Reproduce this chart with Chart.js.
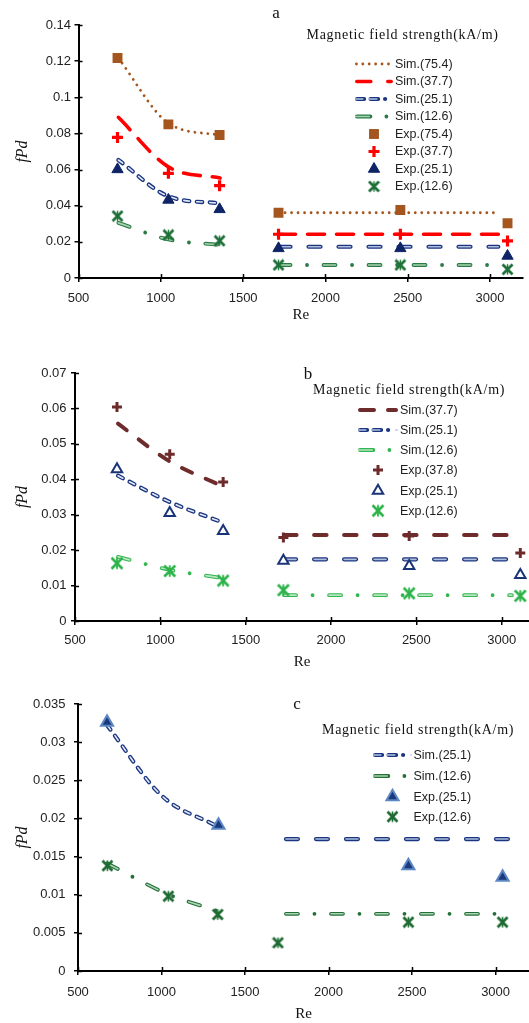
<!DOCTYPE html>
<html>
<head>
<meta charset="utf-8">
<script src="https://cdn.jsdelivr.net/npm/chart.js@4.4.1/dist/chart.umd.min.js"></script>
<style>
html,body{margin:0;padding:0;background:#fff;}
body{width:529px;height:1023px;position:relative;overflow:hidden;}
canvas{position:absolute;left:0;}
</style>
</head>
<body>
<canvas id="ca" width="529" height="325" style="top:0px"></canvas>
<canvas id="cb" width="529" height="347" style="top:325px"></canvas>
<canvas id="cc" width="529" height="351" style="top:672px"></canvas>
<script>
// ================= DATA =================
const xTicks = [500, 1000, 1500, 2000, 2500, 3000];

// ---- panel a ----
const yTicksA = [0, 0.02, 0.04, 0.06, 0.08, 0.1, 0.12, 0.14];
const reExpA = [737, 1046, 1357, 1715, 2455, 3106];
const expA754 = [0.1217, 0.0850, 0.0791, 0.0361, 0.0376, 0.0303];
const expA377 = [0.0778, 0.0579, 0.0511, 0.0242, 0.0242, 0.0205];
const expA251 = [0.0601, 0.0432, 0.0380, 0.0164, 0.0164, 0.0122];
const expA126 = [0.0343, 0.0238, 0.0206, 0.0072, 0.0072, 0.0048];
const reSimLowA = [742, 1046, 1360];
const simLowA754 = [0.1217, 0.0857, 0.0790];
const simLowA377 = [0.0889, 0.0615, 0.0553];
const simLowA251 = [0.0653, 0.0452, 0.0413];
const simLowA126 = [0.0305, 0.0213, 0.0183];
const reSimHighA = [1715, 3050];
const simHighA754 = [0.0361, 0.0361];
const simHighA377 = [0.0242, 0.0242];
const simHighA251 = [0.0173, 0.0173];
const simHighA126 = [0.0072, 0.0072];

// ---- panel b ----
const yTicksB = [0, 0.01, 0.02, 0.03, 0.04, 0.05, 0.06, 0.07];
const reExpB = [746, 1055, 1368, 1721, 2458, 3109];
const expB378 = [0.0604, 0.0471, 0.0392, 0.0236, 0.0240, 0.0192];
const expB251 = [0.0428, 0.0305, 0.0254, 0.0170, 0.0155, 0.0130];
const expB126 = [0.0163, 0.0141, 0.0114, 0.0087, 0.0078, 0.0071];
const reSimLowB = [752, 1050, 1365];
const simLowB377 = [0.0557, 0.0452, 0.0380];
const simLowB251 = [0.0410, 0.0337, 0.0278];
const simLowB126 = [0.0181, 0.0145, 0.0121];
const reSimHighB = [1725, 3060];
const simHighB377 = [0.0243, 0.0243];
const simHighB251 = [0.0174, 0.0174];
const simHighB126 = [0.0073, 0.0073];

// ---- panel c ----
const yTicksC = [0, 0.005, 0.01, 0.015, 0.02, 0.025, 0.03, 0.035];
const reExpC251 = [674, 1341, 2478, 3042];
const expC251 = [0.0326, 0.0191, 0.0138, 0.0123];
const reExpC126 = [676, 1041, 1337, 1697, 2478, 3042];
const expC126 = [0.0138, 0.0098, 0.0074, 0.0037, 0.0064, 0.0064];
const reSimLowC251 = [675, 1000, 1330];
const simLowC251 = [0.0322, 0.0230, 0.0190];
const reSimLowC126 = [675, 1035, 1330];
const simLowC126 = [0.0141, 0.0101, 0.0079];
const reSimHighC = [1745, 3075];
const simHighC251 = [0.0173, 0.0173];
const simHighC126 = [0.0075, 0.0075];

// ================= STYLES =================
const SANS = '"Liberation Sans", Arial, sans-serif';
const SERIF = '"Liberation Serif", "Times New Roman", serif';
const TITLE_TEXT = 'Magnetic field strength(kA/m)';

function pts(xs, ys) { return xs.map((x, i) => ({ x: x, y: ys[i] })); }

function asterisk(color, size, lw, vlw) {
  const c = document.createElement('canvas');
  c.width = size; c.height = size;
  const g = c.getContext('2d');
  const m = size / 2, r = size / 2 - 1.5;
  g.strokeStyle = color;
  g.lineWidth = lw;
  g.beginPath();
  g.moveTo(m - r, m - r); g.lineTo(m + r, m + r);
  g.moveTo(m + r, m - r); g.lineTo(m - r, m + r);
  g.stroke();
  g.lineWidth = vlw;
  g.beginPath();
  g.moveTo(m, m - r * 1.05); g.lineTo(m, m + r * 1.05);
  g.stroke();
  return c;
}

const C = {
  brown: '#A4561E', red: '#FF0000', navy: '#1B3580', navyDark: '#0E2466',
  greenA: '#1E7038', maroon: '#6E2B2B', greenB: '#2DB34A', greenC: '#1E6B33'
};

// line styles: layers (outline first, then inner fill)
const LS = {
  dotBrown: { plot: [{ color: C.brown, width: 2.8, dash: [0.01, 6.5] }],
              leg: [{ color: C.brown, width: 2.8, dash: [0.01, 6.4] }] },
  redA: { plot: [{ color: C.red, width: 3.6, dash: [17, 12] }],
          leg: [{ color: C.red, width: 3.6, dash: [14, 17] }] },
  navyLow: { plot: [{ color: C.navy, width: 4.2, dash: [5.5, 7.5] }, { color: '#E2E8F4', width: 1.6, dash: [5.5, 7.5] }],
             leg: [{ color: C.navy, width: 4.2, dash: [7, 6.5, 7.5, 7, 0.01, 9] }, { color: '#B7C4E0', width: 1.6, dash: [7, 6.5, 7.5, 16.01] }] },
  navyHigh: { plot: [{ color: C.navy, width: 4.2, dash: [12, 18] }, { color: '#AFBEDD', width: 1.6, dash: [12, 18] }] },
  greenA: { plot: [{ color: '#2A7A44', width: 3.8, dash: [12, 16.5, 0.01, 16.5] }, { color: '#A9D4B1', width: 1.6, dash: [12, 33.01] }],
            leg: [{ color: '#2A7A44', width: 3.8, dash: [13.5, 16, 0.01, 20] }, { color: '#A9D4B1', width: 1.6, dash: [13.5, 36.01] }] },
  maroonLow: { plot: [{ color: C.maroon, width: 4, dash: [11, 15] }] },
  maroonHigh: { plot: [{ color: C.maroon, width: 4, dash: [12.5, 17.5] }],
                leg: [{ color: C.maroon, width: 4, dash: [14, 14] }] },
  greenB: { plot: [{ color: '#33B550', width: 3.8, dash: [12, 16.5, 0.01, 16.5] }, { color: '#B9E6C2', width: 1.6, dash: [12, 33.01] }],
            leg: [{ color: '#33B550', width: 3.8, dash: [13.5, 16, 0.01, 20] }, { color: '#B9E6C2', width: 1.6, dash: [13.5, 36.01] }] },
  greenC: { plot: [{ color: '#226F38', width: 3.8, dash: [12, 16.5, 0.01, 16.5] }, { color: '#ACD3B3', width: 1.6, dash: [12, 33.01] }],
            leg: [{ color: '#226F38', width: 3.8, dash: [13.5, 16, 0.01, 20] }, { color: '#ACD3B3', width: 1.6, dash: [13.5, 36.01] }] }
};

// markers
const MK = {
  sqBrown: { style: 'rect', r: 7, fill: C.brown, color: C.brown, bw: 0 },
  plusRed: { style: 'cross', r: 5.5, fill: C.red, color: C.red, bw: 3.2 },
  triNavy: { style: 'triangle', r: 6.5, fill: C.navyDark, color: C.navyDark, bw: 1 },
  astGreenA: { style: asterisk(C.greenA, 13, 2.8, 1.4), r: 6, fill: C.greenA, color: C.greenA, bw: 1 },
  plusMaroon: { style: 'cross', r: 5, fill: C.maroon, color: C.maroon, bw: 3 },
  triHollow: { style: 'triangle', r: 6, fill: '#ffffff', color: '#1A3478', bw: 2 },
  astGreenB: { style: asterisk(C.greenB, 14, 2.6, 1.8), r: 6, fill: C.greenB, color: C.greenB, bw: 1 },
  triBlueC: { style: 'triangle', r: 7, fill: '#1A3A7C', color: '#5C86C4', bw: 2 },
  astGreenC: { style: asterisk(C.greenC, 13, 2.8, 1.6), r: 6, fill: C.greenC, color: C.greenC, bw: 1 }
};

// ================= BUILDERS =================
function simSets(data, ls) {
  return ls.plot.map((ly, i) => ({
    data: data, showLine: true,
    borderColor: ly.color, borderWidth: ly.width, borderDash: ly.dash,
    borderCapStyle: 'round', borderJoinStyle: 'round',
    pointRadius: 0, pointHoverRadius: 0, fill: false,
    tension: 0.4, cubicInterpolationMode: 'monotone',
    order: i === 0 ? 3 : 2
  }));
}
function expSet(data, mk) {
  return {
    data: data, showLine: false,
    pointStyle: mk.style, pointRadius: mk.r, pointHoverRadius: mk.r,
    pointBackgroundColor: mk.fill, pointBorderColor: mk.color, pointBorderWidth: mk.bw,
    order: 0
  };
}

function drawLegendLine(ctx, layers, x0, x1, y) {
  layers.forEach(ly => {
    ctx.save();
    ctx.strokeStyle = ly.color; ctx.lineWidth = ly.width;
    ctx.lineCap = 'round'; ctx.setLineDash(ly.dash);
    ctx.beginPath(); ctx.moveTo(x0 + ly.width / 2, y); ctx.lineTo(x1 - ly.width / 2, y); ctx.stroke();
    ctx.restore();
  });
}
function drawLegendMarker(ctx, mk, x, y) {
  ctx.save();
  ctx.fillStyle = mk.fill; ctx.strokeStyle = mk.color; ctx.lineWidth = mk.bw;
  Chart.helpers.drawPoint(ctx, { pointStyle: mk.style, radius: mk.r, borderWidth: mk.bw, rotation: 0 }, x, y);
  ctx.restore();
}

function decorPlugin(P) {
  return {
    id: 'decor' + P.id,
    afterDraw(chart) {
      const ctx = chart.ctx;
      const area = chart.chartArea;
      const xs = chart.scales.x, ys = chart.scales.y;
      // inward tick marks (cross style ticks)
      ctx.save();
      ctx.strokeStyle = '#000'; ctx.lineWidth = 1.5;
      ctx.beginPath();
      xs.ticks.forEach(t => { const px = Math.round(xs.getPixelForValue(t.value)) + 0.5; ctx.moveTo(px, area.bottom); ctx.lineTo(px, area.bottom - 4); });
      ys.ticks.forEach(t => { const py = Math.round(ys.getPixelForValue(t.value)) + 0.5; ctx.moveTo(area.left, py); ctx.lineTo(area.left + 4, py); });
      ctx.stroke();
      ctx.restore();

      // panel letter
      ctx.save();
      ctx.fillStyle = '#111';
      ctx.font = '17px ' + SERIF;
      ctx.textAlign = 'center'; ctx.textBaseline = 'alphabetic';
      ctx.fillText(P.letter, P.letterX, P.letterY);
      // legend title
      ctx.font = '14px ' + SERIF;
      ctx.textAlign = 'left';
      if ('letterSpacing' in ctx) ctx.letterSpacing = '0.7px';
      ctx.fillText(TITLE_TEXT, P.titleX, P.titleY);
      if ('letterSpacing' in ctx) ctx.letterSpacing = '0px';
      ctx.restore();

      // legend items
      const G = P.leg;
      P.items.forEach((it, i) => {
        const y = G.ys[i];
        if (it.line) drawLegendLine(ctx, it.line, G.x0, G.x1, y);
        if (it.mk) drawLegendMarker(ctx, it.mk, G.mx, y);
        ctx.save();
        ctx.fillStyle = '#1e1e1e';
        ctx.font = '12.5px ' + SANS;
        ctx.textAlign = 'left'; ctx.textBaseline = 'middle';
        ctx.fillText(it.label, G.tx, y + 0.5);
        ctx.restore();
      });
    }
  };
}

function makeChart(P) {
  const cv = document.getElementById(P.id);
  new Chart(cv, {
    type: 'scatter',
    data: { datasets: P.datasets },
    options: {
      responsive: false, animation: false, events: [],
      layout: { autoPadding: false, padding: { left: 0, right: cv.width - P.right, top: P.top, bottom: 0 } },
      plugins: { legend: { display: false }, tooltip: { enabled: false } },
      scales: {
        x: {
          type: 'linear', min: 500, max: P.xmax,
          afterBuildTicks: s => { s.ticks = xTicks.map(v => ({ value: v })); },
          afterFit: s => { s.height = P.xh; s.paddingLeft = 0; s.paddingRight = 0; },
          border: { display: true, color: '#000', width: 2 },
          grid: { drawOnChartArea: false, drawTicks: true, tickLength: 4, color: '#000', lineWidth: 1.5 },
          ticks: { color: '#222', font: { size: 13, family: SANS }, padding: P.xpad, maxRotation: 0, autoSkip: false, callback: v => String(v) },
          title: { display: true, text: 'Re', color: '#111', font: { size: 15, family: SERIF }, padding: { top: 0, bottom: P.rePad } }
        },
        y: {
          type: 'linear', min: 0, max: P.ymax,
          afterBuildTicks: s => { s.ticks = P.yTicks.map(v => ({ value: v })); },
          afterFit: s => { s.width = P.left; s.paddingTop = 0; s.paddingBottom = 0; },
          border: { display: true, color: '#000', width: 2 },
          grid: { drawOnChartArea: false, drawTicks: true, tickLength: 4, color: '#000', lineWidth: 1.5 },
          ticks: { color: '#222', font: { size: 13, family: SANS }, padding: P.ypad, autoSkip: false, callback: v => String(v) },
          title: { display: true, text: 'fPd', color: '#111', font: { size: 16, family: SERIF, style: 'italic' }, padding: { top: 13, bottom: 0 } }
        }
      }
    },
    plugins: [decorPlugin(P)]
  });
}

// ================= PANELS =================
makeChart({
  id: 'ca', left: 78.5, right: 523, top: 25, xh: 47, xmax: 3200, ymax: 0.14, yTicks: yTicksA,
  xpad: 8.5, ypad: 3.5, rePad: 1,
  letter: 'a', letterX: 276, letterY: 17.5, titleX: 306.5, titleY: 38.5,
  leg: { x0: 355, x1: 393, mx: 374, tx: 395, ys: [64, 81.5, 99, 116.5, 134, 151.5, 169, 186.5] },
  items: [
    { label: 'Sim.(75.4)', line: LS.dotBrown.leg },
    { label: 'Sim.(37.7)', line: LS.redA.leg },
    { label: 'Sim.(25.1)', line: LS.navyLow.leg },
    { label: 'Sim.(12.6)', line: LS.greenA.leg },
    { label: 'Exp.(75.4)', mk: MK.sqBrown },
    { label: 'Exp.(37.7)', mk: MK.plusRed },
    { label: 'Exp.(25.1)', mk: MK.triNavy },
    { label: 'Exp.(12.6)', mk: MK.astGreenA }
  ],
  datasets: [].concat(
    simSets(pts(reSimLowA, simLowA754), LS.dotBrown), simSets(pts(reSimHighA, simHighA754), LS.dotBrown),
    simSets(pts(reSimLowA, simLowA377), LS.redA), simSets(pts(reSimHighA, simHighA377), LS.redA),
    simSets(pts(reSimLowA, simLowA251), LS.navyLow), simSets(pts(reSimHighA, simHighA251), LS.navyHigh),
    simSets(pts(reSimLowA, simLowA126), LS.greenA), simSets(pts(reSimHighA, simHighA126), LS.greenA),
    [expSet(pts(reExpA, expA754), MK.sqBrown), expSet(pts(reExpA, expA377), MK.plusRed),
     expSet(pts(reExpA, expA251), MK.triNavy), expSet(pts(reExpA, expA126), MK.astGreenA)]
  )
});

makeChart({
  id: 'cb', left: 75, right: 529, top: 48, xh: 51, xmax: 3160, ymax: 0.07, yTicks: yTicksB,
  xpad: 8, ypad: 4.5, rePad: 1,
  letter: 'b', letterX: 308, letterY: 53.5, titleX: 313, titleY: 69,
  leg: { x0: 358, x1: 398, mx: 378, tx: 400, ys: [85, 105, 125, 145, 165.7, 185.7] },
  items: [
    { label: 'Sim.(37.7)', line: LS.maroonHigh.leg },
    { label: 'Sim.(25.1)', line: LS.navyLow.leg },
    { label: 'Sim.(12.6)', line: LS.greenB.leg },
    { label: 'Exp.(37.8)', mk: MK.plusMaroon },
    { label: 'Exp.(25.1)', mk: MK.triHollow },
    { label: 'Exp.(12.6)', mk: MK.astGreenB }
  ],
  datasets: [].concat(
    simSets(pts(reSimLowB, simLowB377), LS.maroonLow), simSets(pts(reSimHighB, simHighB377), LS.maroonHigh),
    simSets(pts(reSimLowB, simLowB251), LS.navyLow), simSets(pts(reSimHighB, simHighB251), LS.navyHigh),
    simSets(pts(reSimLowB, simLowB126), LS.greenB), simSets(pts(reSimHighB, simHighB126), LS.greenB),
    [expSet(pts(reExpB, expB378), MK.plusMaroon), expSet(pts(reExpB, expB251), MK.triHollow),
     expSet(pts(reExpB, expB126), MK.astGreenB)]
  )
});

makeChart({
  id: 'cc', left: 78, right: 529, top: 32, xh: 52, xmax: 3200, ymax: 0.035, yTicks: yTicksC,
  xpad: 9.5, ypad: 8.5, rePad: 0,
  letter: 'c', letterX: 297, letterY: 36.5, titleX: 322, titleY: 62,
  leg: { x0: 373, x1: 412, mx: 392.5, tx: 413.5, ys: [83, 104, 124.7, 144.7] },
  items: [
    { label: 'Sim.(25.1)', line: LS.navyLow.leg },
    { label: 'Sim.(12.6)', line: LS.greenC.leg },
    { label: 'Exp.(25.1)', mk: MK.triBlueC },
    { label: 'Exp.(12.6)', mk: MK.astGreenC }
  ],
  datasets: [].concat(
    simSets(pts(reSimLowC251, simLowC251), LS.navyLow), simSets(pts(reSimHighC, simHighC251), LS.navyHigh),
    simSets(pts(reSimLowC126, simLowC126), LS.greenC), simSets(pts(reSimHighC, simHighC126), LS.greenC),
    [expSet(pts(reExpC251, expC251), MK.triBlueC), expSet(pts(reExpC126, expC126), MK.astGreenC)]
  )
});
</script>
</body>
</html>
